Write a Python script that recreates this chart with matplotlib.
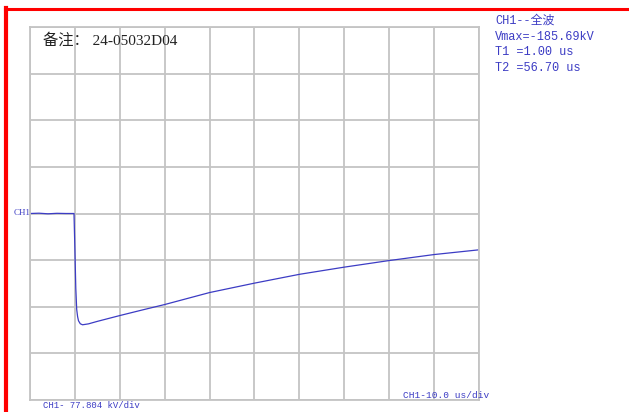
import matplotlib
matplotlib.use("Agg")
import matplotlib.pyplot as plt
from matplotlib.lines import Line2D

# 波形数据 (时间 us, 电压 kV)
time_us = [0.0, 2.0, 4.0, 6.0, 8.0, 9.8, 10.0, 10.2, 10.4, 10.6, 10.8, 11.2, 11.7,
           13.0, 15.0, 20.0, 25.0, 30.0, 40.0, 50.0, 60.0, 70.0,
           80.0, 90.0, 100.0]
volt_kv = [0.0, 0.5, -0.5, 0.3, 0.0, 0.0, -60.0, -125.0, -160.0, -172.0, -179.0,
           -184.0, -185.7, -184.2, -180.0, -170.3, -161.0,
           -151.9, -131.9, -116.2, -101.5, -89.5, -78.5, -68.5, -60.6]

x_div = 10.0      # us/div
y_div = 77.804    # kV/div
n_x, n_y = 10, 8

info_lines = ["CH1--全波", "Vmax=-185.69kV", "T1 =1.00 us", "T2 =56.70 us"]
note_text = "备注： 24-05032D04"

blue = "#3c3cc4"
grid_c = "#c4c4c4"

fig = plt.figure(figsize=(6.29, 4.12), dpi=100)
W, H = 629, 412
ax = fig.add_axes([30 / W, (H - 400) / H, 449 / W, 373 / H])

ax.plot(time_us, volt_kv, color=blue, lw=0.9)
ax.set_xlim(0, n_x * x_div)
ax.set_ylim(-n_y / 2 * y_div, n_y / 2 * y_div)
ax.set_xticks([i * x_div for i in range(n_x + 1)])
ax.set_yticks([(j - n_y / 2) * y_div for j in range(n_y + 1)])
ax.grid(True, color=grid_c, lw=1.3)
ax.set_axisbelow(True)
ax.tick_params(length=0, labelbottom=False, labelleft=False)
for s in ax.spines.values():
    s.set_color(grid_c)
    s.set_linewidth(1.3)

# 红色边框
fig.add_artist(Line2D([5 / W, 1], [1 - 9 / H, 1 - 9 / H], color="#ff0000", lw=2.2))
fig.add_artist(Line2D([6.5 / W, 6.5 / W], [0, 1 - 8 / H], color="#ff0000", lw=3.0))

# 文字
fig.text(43 / W, 1 - 40 / H, note_text, fontsize=11, color="#222222",
         family=["Liberation Serif", "Noto Sans CJK SC"], va="center")
for i, s in enumerate(info_lines):
    fig.text(495 / W, 1 - (21 + i * 15.7) / H, s, fontsize=8.6, color=blue,
             family=["Liberation Mono", "Noto Sans CJK SC"], va="center")
fig.text(14 / W, 1 - 213 / H, "CH1", fontsize=6.5, color=blue,
         family=["Liberation Serif"], va="center")
fig.text(403 / W, 1 - 395 / H, "CH1-10.0 us/div", fontsize=6.8, color=blue,
         family=["Liberation Mono"], va="center")
fig.text(43 / W, 1 - 406 / H, "CH1- 77.804 kV/div", fontsize=6.5, color=blue,
         family=["Liberation Mono"], va="center")

fig.savefig("out.png", dpi=100)
